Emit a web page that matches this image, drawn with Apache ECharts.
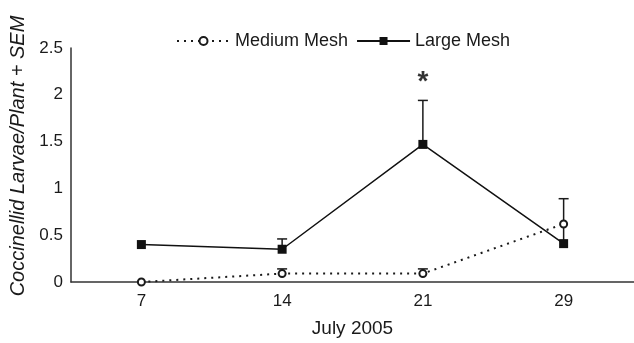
<!DOCTYPE html>
<html>
<head>
<meta charset="utf-8">
<script src="https://cdn.jsdelivr.net/npm/echarts@6/dist/echarts.min.js"></script>
<style>
  html, body { margin: 0; padding: 0; background: #fff; }
  #chart { width: 634px; height: 343px; }
</style>
</head>
<body>
<div id="chart"></div>
<script>
// Sampling dates (July 2005)
const days = ['7', '14', '21', '29'];
const yTicks = [0, 0.5, 1, 1.5, 2, 2.5];

// Mean coccinellid larvae per plant
const mediumMesh = [0, 0.09, 0.09, 0.62];
const largeMesh = [0.40, 0.35, 1.47, 0.41];

// Mean + SEM (upper end of each error bar); null = no bar drawn
const mediumUpper = [null, 0.14, 0.14, null];
const largeUpper = [null, 0.46, 1.94, 0.89];

// Significance marker
const sigDay = '21';
const sigY = 2.13;

const font = 'Liberation Sans, Arial, sans-serif';
const ink = '#1a1a1a';

function errorBarSeries(means, uppers, z) {
  const data = [];
  means.forEach((m, i) => {
    if (uppers[i] != null) data.push([i, m, uppers[i]]);
  });
  return {
    type: 'custom',
    z: z,
    silent: true,
    data: data,
    renderItem: function (params, api) {
      const x = api.value(0);
      const lo = api.coord([x, api.value(1)]);
      const hi = api.coord([x, api.value(2)]);
      const half = 5;
      const style = { stroke: ink, lineWidth: 1.5 };
      return {
        type: 'group',
        children: [
          { type: 'line', shape: { x1: lo[0], y1: lo[1], x2: hi[0], y2: hi[1] }, style: style },
          { type: 'line', shape: { x1: hi[0] - half, y1: hi[1], x2: hi[0] + half, y2: hi[1] }, style: style }
        ]
      };
    }
  };
}

const chart = echarts.init(document.getElementById('chart'), null, { renderer: 'canvas' });
chart.setOption({
  animation: false,
  backgroundColor: '#fff',
  textStyle: { fontFamily: font },
  grid: { left: 71, right: 0, top: 48, bottom: 60 },
  legend: {
    top: 27,
    left: 171,
    itemWidth: 53,
    itemHeight: 10,
    itemGap: 8,
    textStyle: { fontFamily: font, fontSize: 18, color: ink },
    data: ['Medium Mesh', 'Large Mesh']
  },
  xAxis: {
    type: 'category',
    data: days,
    boundaryGap: true,
    name: 'July 2005',
    nameLocation: 'middle',
    nameGap: 37,
    nameTextStyle: { fontFamily: font, fontSize: 19, color: ink },
    axisLine: { lineStyle: { color: '#333', width: 1.5 } },
    axisTick: { show: false },
    axisLabel: { fontFamily: font, fontSize: 17, color: ink, margin: 11 },
    splitLine: { show: false }
  },
  yAxis: {
    type: 'value',
    min: yTicks[0],
    max: yTicks[yTicks.length - 1],
    interval: 0.5,
    name: 'Coccinellid Larvae/Plant + SEM',
    nameLocation: 'middle',
    nameGap: 41,
    nameTextStyle: { fontFamily: font, fontSize: 20, fontStyle: 'italic', color: ink, padding: [0, 0, 0, 18] },
    axisLine: { show: true, lineStyle: { color: '#333', width: 1.5 } },
    axisTick: { show: false },
    axisLabel: { fontFamily: font, fontSize: 17, color: ink, margin: 8 },
    splitLine: { show: false }
  },
  series: [
    errorBarSeries(mediumMesh, mediumUpper, 2),
    errorBarSeries(largeMesh, largeUpper, 2),
    {
      name: 'Medium Mesh',
      type: 'line',
      z: 3,
      data: mediumMesh,
      symbol: 'emptyCircle',
      symbolSize: 7,
      lineStyle: { color: ink, width: 2, type: [2, 5] },
      itemStyle: { color: ink, borderColor: ink, borderWidth: 1.5 }
    },
    {
      name: 'Large Mesh',
      type: 'line',
      z: 4,
      data: largeMesh,
      symbol: 'rect',
      symbolSize: 9,
      lineStyle: { color: '#111', width: 1.5 },
      itemStyle: { color: '#111' }
    },
    {
      type: 'scatter',
      silent: true,
      symbolSize: 0,
      data: [[sigDay, sigY]],
      label: {
        show: true,
        position: 'inside',
        formatter: '*',
        fontFamily: font,
        fontSize: 28,
        fontWeight: 'bold',
        color: '#000'
      }
    }
  ]
});
</script>
</body>
</html>
